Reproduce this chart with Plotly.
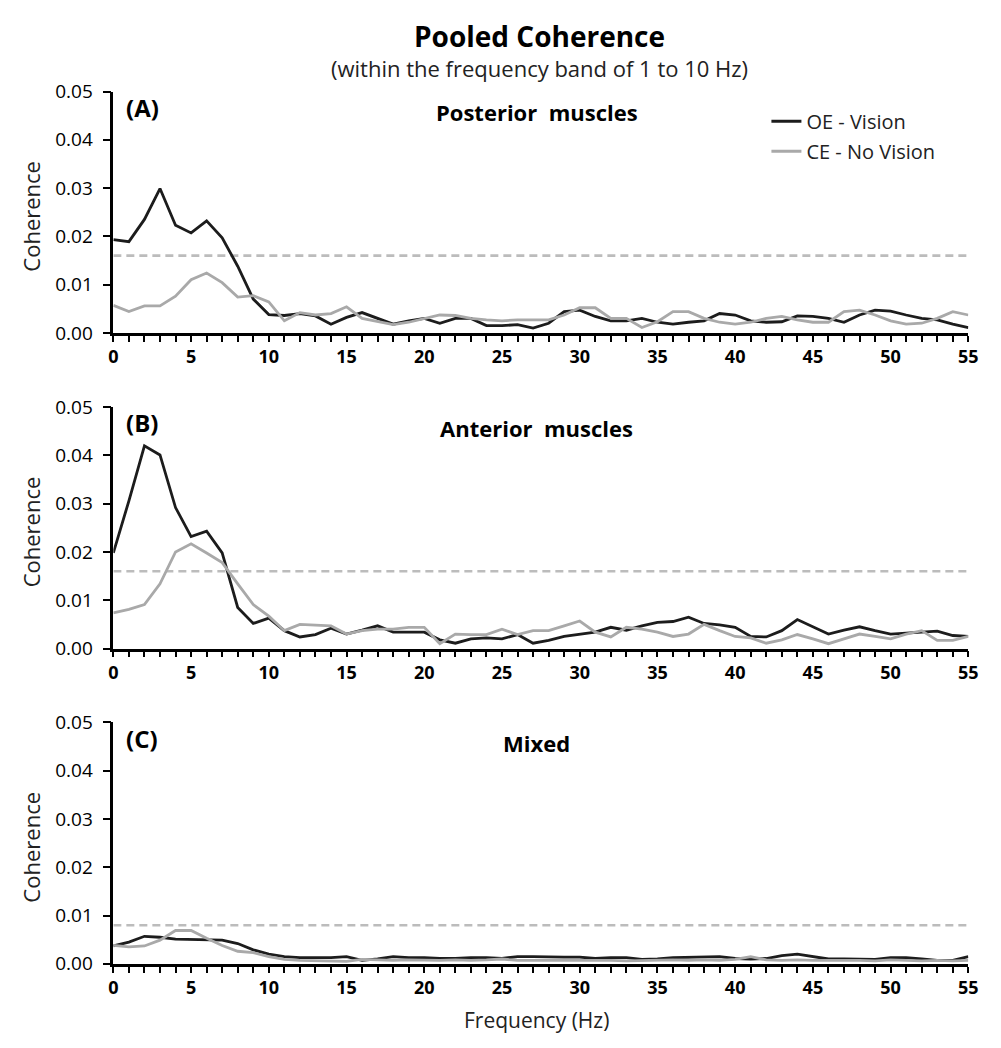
import plotly.graph_objects as go

freq = list(range(0, 56))

post_oe = [0.0193, 0.0189, 0.0235, 0.0299, 0.0223, 0.0207, 0.0232, 0.0197, 0.0138, 0.0070,
           0.0038, 0.0036, 0.0040, 0.0035, 0.0018, 0.0032, 0.0042, 0.0030, 0.0018, 0.0025,
           0.0030, 0.0020, 0.0030, 0.0030, 0.0015, 0.0015, 0.0017, 0.0010, 0.0020, 0.0044,
           0.0047, 0.0034, 0.0025, 0.0025, 0.0030, 0.0022, 0.0018, 0.0022, 0.0025, 0.0040,
           0.0037, 0.0025, 0.0022, 0.0023, 0.0035, 0.0034, 0.0030, 0.0022, 0.0037, 0.0047,
           0.0045, 0.0037, 0.0030, 0.0027, 0.0018, 0.0011]
post_ce = [0.0057, 0.0044, 0.0056, 0.0056, 0.0076, 0.0110, 0.0124, 0.0104, 0.0074, 0.0077,
           0.0064, 0.0025, 0.0042, 0.0037, 0.0040, 0.0054, 0.0030, 0.0023, 0.0017, 0.0022,
           0.0029, 0.0037, 0.0036, 0.0030, 0.0027, 0.0025, 0.0027, 0.0027, 0.0027, 0.0037,
           0.0052, 0.0052, 0.0030, 0.0030, 0.0011, 0.0023, 0.0044, 0.0044, 0.0030, 0.0022,
           0.0018, 0.0022, 0.0030, 0.0034, 0.0027, 0.0022, 0.0022, 0.0044, 0.0047, 0.0037,
           0.0025, 0.0018, 0.0020, 0.0030, 0.0044, 0.0037]

ant_oe = [0.0198, 0.0306, 0.0420, 0.0401, 0.0292, 0.0232, 0.0243, 0.0198, 0.0085, 0.0052,
          0.0063, 0.0037, 0.0024, 0.0029, 0.0042, 0.0030, 0.0038, 0.0047, 0.0034, 0.0034,
          0.0034, 0.0018, 0.0011, 0.0020, 0.0022, 0.0020, 0.0029, 0.0011, 0.0017, 0.0025,
          0.0030, 0.0034, 0.0044, 0.0038, 0.0047, 0.0054, 0.0056, 0.0065, 0.0052, 0.0049,
          0.0044, 0.0025, 0.0024, 0.0037, 0.0060, 0.0045, 0.0030, 0.0038, 0.0045, 0.0037,
          0.0030, 0.0032, 0.0034, 0.0036, 0.0027, 0.0025]
ant_ce = [0.0074, 0.0081, 0.0091, 0.0134, 0.0200, 0.0217, 0.0198, 0.0178, 0.0134, 0.0091,
          0.0067, 0.0037, 0.0050, 0.0049, 0.0047, 0.0030, 0.0037, 0.0040, 0.0040, 0.0044,
          0.0044, 0.0010, 0.0030, 0.0029, 0.0029, 0.0040, 0.0029, 0.0037, 0.0037, 0.0047,
          0.0057, 0.0034, 0.0024, 0.0044, 0.0040, 0.0034, 0.0025, 0.0030, 0.0050, 0.0037,
          0.0025, 0.0022, 0.0011, 0.0018, 0.0029, 0.0020, 0.0010, 0.0020, 0.0030, 0.0025,
          0.0020, 0.0030, 0.0037, 0.0017, 0.0017, 0.0025]

mix_oe = [0.0037, 0.0045, 0.0057, 0.0055, 0.0051, 0.0050, 0.0049, 0.0049, 0.0042, 0.0029,
          0.0020, 0.0015, 0.0013, 0.0013, 0.0013, 0.0015, 0.0007, 0.0010, 0.0015, 0.0013,
          0.0013, 0.0011, 0.0011, 0.0013, 0.0013, 0.0011, 0.0015, 0.0015, 0.0014, 0.0014,
          0.0014, 0.0011, 0.0013, 0.0013, 0.0009, 0.0010, 0.0013, 0.0014, 0.0015, 0.0015,
          0.0011, 0.0010, 0.0011, 0.0017, 0.0020, 0.0015, 0.0010, 0.0010, 0.0010, 0.0009,
          0.0013, 0.0013, 0.0010, 0.0007, 0.0007, 0.0015]
mix_ce = [0.0038, 0.0035, 0.0037, 0.0049, 0.0069, 0.0069, 0.0053, 0.0038, 0.0026, 0.0023,
          0.0015, 0.0009, 0.0007, 0.0006, 0.0006, 0.0005, 0.0009, 0.0008, 0.0007, 0.0008,
          0.0007, 0.0007, 0.0008, 0.0007, 0.0008, 0.0010, 0.0007, 0.0007, 0.0008, 0.0007,
          0.0007, 0.0008, 0.0007, 0.0006, 0.0007, 0.0007, 0.0008, 0.0007, 0.0008, 0.0007,
          0.0009, 0.0015, 0.0008, 0.0007, 0.0008, 0.0007, 0.0007, 0.0008, 0.0007, 0.0006,
          0.0008, 0.0007, 0.0006, 0.0007, 0.0006, 0.0007]

thresholds = [0.016, 0.016, 0.008]
panel_titles = ["Posterior  muscles", "Anterior  muscles", "Mixed"]
panel_labels = ["(A)", "(B)", "(C)"]
series_names = ["OE - Vision", "CE - No Vision"]
y_ticks = [0.00, 0.01, 0.02, 0.03, 0.04, 0.05]
x_ticks = list(range(0, 56, 5))

panels = [(post_oe, post_ce), (ant_oe, ant_ce), (mix_oe, mix_ce)]

W, H = 1001, 1048
FONT = "Open Sans"
BLACK = "#1c1c1c"
GRAY = "#a9a9a9"
DASH = "#bcbcbc"

# pixel geometry of each plot area (top, bottom)
x_left, x_right = 110, 978
rows_px = [(80.5, 328), (404.2, 651.7), (727.5, 975)]

fig = go.Figure()
layout = dict()
for i, ((oe, ce), (top, bot)) in enumerate(zip(panels, rows_px)):
    n = i + 1
    xa = "x" if n == 1 else f"x{n}"
    ya = "y" if n == 1 else f"y{n}"
    fig.add_trace(go.Scatter(x=[freq[0], freq[-1]], y=[thresholds[i]] * 2, mode="lines",
                             line=dict(color=DASH, width=2.6, dash="8px,5px"),
                             xaxis=xa, yaxis=ya, showlegend=False, hoverinfo="skip"))
    fig.add_trace(go.Scatter(x=freq, y=oe, mode="lines", name=series_names[0],
                             line=dict(color=BLACK, width=2.8),
                             xaxis=xa, yaxis=ya, showlegend=(n == 1),
                             legendgroup="oe"))
    fig.add_trace(go.Scatter(x=freq, y=ce, mode="lines", name=series_names[1],
                             line=dict(color=GRAY, width=2.8),
                             xaxis=xa, yaxis=ya, showlegend=(n == 1),
                             legendgroup="ce"))
    xkey = "xaxis" if n == 1 else f"xaxis{n}"
    ykey = "yaxis" if n == 1 else f"yaxis{n}"
    layout[xkey] = dict(
        domain=[x_left / W, x_right / W], anchor=ya, range=[0, 55],
        tickvals=x_ticks, ticks="outside", ticklen=6, tickwidth=2, tickcolor="black",
        minor=dict(dtick=1, tick0=0, ticks="outside", ticklen=6, tickwidth=2, tickcolor="black"),
        showline=True, linecolor="black", linewidth=2.6, showgrid=False, zeroline=False,
        ticklabelstandoff=0,
        tickfont=dict(family=FONT, size=18, color="black", weight="bold"),
    )
    layout[ykey] = dict(
        domain=[1 - bot / H, 1 - top / H], anchor=xa, range=[0, 0.05],
        tickvals=y_ticks, tickformat=".2f", ticks="outside", ticklen=8, tickwidth=2,
        tickcolor="black", showline=True, linecolor="black", linewidth=2.6,
        showgrid=False, zeroline=False, ticklabelstandoff=6,
        tickfont=dict(family=FONT, size=19, color="black"),
    )

annotations = []
for i, (top, bot) in enumerate(rows_px):
    annotations.append(dict(text=f"<b>{panel_titles[i]}</b>", x=540 / W, y=1 - (top + 21.5) / H,
                            xref="paper", yref="paper", showarrow=False,
                            font=dict(family=FONT, size=22, color="black"),
                            xanchor="center", yanchor="middle"))
    annotations.append(dict(text=f"<b>{panel_labels[i]}</b>", x=121 / W, y=1 - (top + 16) / H,
                            xref="paper", yref="paper", showarrow=False,
                            font=dict(family=FONT, size=24, color="black"),
                            xanchor="left", yanchor="middle"))
    annotations.append(dict(text="Coherence", x=26 / W, y=1 - ((top + bot) / 2 + 4) / H,
                            xref="paper", yref="paper", showarrow=False, textangle=-90,
                            font=dict(family=FONT, size=22, color="#222"),
                            xanchor="center", yanchor="middle"))

annotations.append(dict(text="<b>Pooled Coherence</b>", x=543 / W, y=1 - 24 / H,
                        xref="paper", yref="paper", showarrow=False,
                        font=dict(family=FONT, size=28, color="black"),
                        xanchor="center", yanchor="middle"))
annotations.append(dict(text="(within the frequency band of 1 to 10 Hz)", x=543 / W, y=1 - 56 / H,
                        xref="paper", yref="paper", showarrow=False,
                        font=dict(family=FONT, size=22, color="#222"),
                        xanchor="center", yanchor="middle"))
annotations.append(dict(text="Frequency (Hz)", x=540 / W, y=1 - 1033 / H,
                        xref="paper", yref="paper", showarrow=False,
                        font=dict(family=FONT, size=21, color="#222"),
                        xanchor="center", yanchor="middle"))

fig.update_layout(
    width=W, height=H,
    margin=dict(l=0, r=0, t=0, b=0),
    paper_bgcolor="white", plot_bgcolor="white",
    showlegend=True,
    legend=dict(x=773 / W, y=1 - 91 / H, xanchor="left", yanchor="top",
                bgcolor="rgba(0,0,0,0)", tracegroupgap=1, traceorder="grouped",
                font=dict(family=FONT, size=20, color="#222")),
    annotations=annotations,
    **layout,
)

fig.write_html("out.html", config={"displayModeBar": False},
               post_script="document.body.style.margin='0px';")
